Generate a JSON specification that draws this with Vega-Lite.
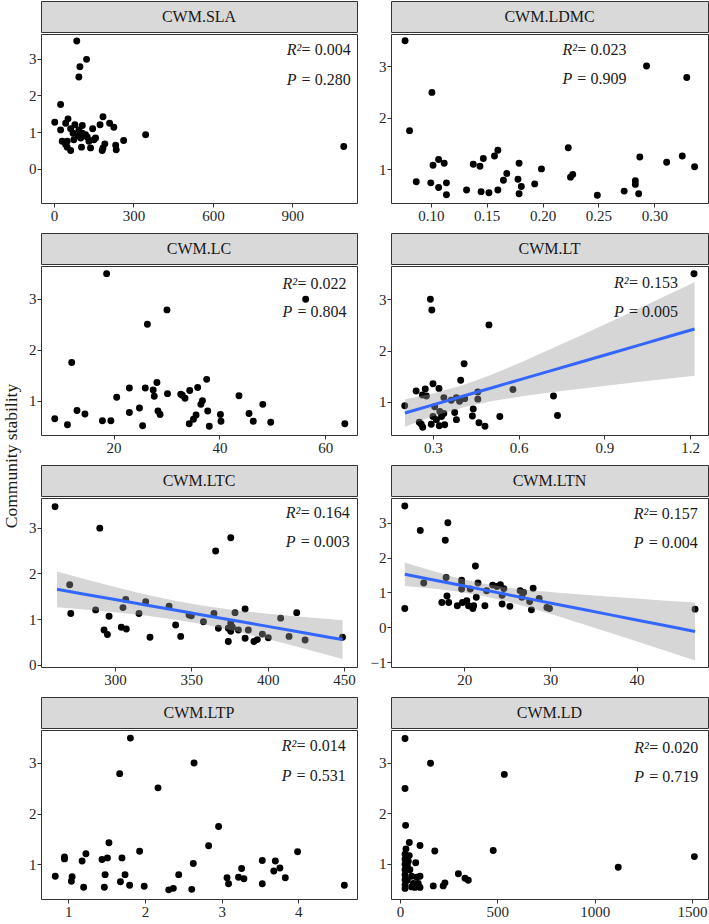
{
  "$schema": "https://vega.github.io/schema/vega-lite/v6.json",
  "padding": 0,
  "background": "white",
  "config": {
    "font": "Liberation Serif",
    "view": {"stroke": "#333333", "strokeWidth": 1},
    "axis": {"grid": false, "domain": false, "tickColor": "#333333", "tickSize": 4, "labelFont": "Liberation Serif", "labelFontSize": 15, "labelColor": "#262626", "labelPadding": 1},
    "text": {"font": "Liberation Serif"},
    "concat": {"spacing": 11}
  },
  "datasets": {
    "SLA": [{"x":86,"y":3.48},{"x":123,"y":2.98},{"x":98,"y":2.78},{"x":94,"y":2.5},{"x":25,"y":1.75},{"x":3,"y":1.27},{"x":53,"y":1.36},{"x":44,"y":1.24},{"x":25,"y":1.06},{"x":63,"y":1.09},{"x":79,"y":1.2},{"x":107,"y":1.18},{"x":94,"y":1.06},{"x":185,"y":1.42},{"x":174,"y":1.2},{"x":210,"y":1.24},{"x":226,"y":1.13},{"x":146,"y":1.09},{"x":107,"y":0.97},{"x":126,"y":0.86},{"x":101,"y":0.84},{"x":75,"y":0.79},{"x":31,"y":0.75},{"x":50,"y":0.75},{"x":151,"y":0.79},{"x":263,"y":0.77},{"x":346,"y":0.93},{"x":1094,"y":0.61},{"x":104,"y":0.59},{"x":63,"y":0.5},{"x":50,"y":0.59},{"x":138,"y":0.57},{"x":185,"y":0.57},{"x":192,"y":0.68},{"x":233,"y":0.64},{"x":235,"y":0.52},{"x":182,"y":0.5},{"x":119,"y":0.93},{"x":132,"y":0.75},{"x":92,"y":0.9},{"x":44,"y":0.66},{"x":72,"y":0.97},{"x":157,"y":0.84}],
    "LDMC": [{"x":0.077,"y":3.49},{"x":0.101,"y":2.49},{"x":0.081,"y":1.75},{"x":0.087,"y":0.76},{"x":0.1,"y":0.74},{"x":0.102,"y":1.08},{"x":0.107,"y":1.19},{"x":0.112,"y":1.12},{"x":0.107,"y":0.65},{"x":0.114,"y":0.74},{"x":0.114,"y":0.51},{"x":0.132,"y":0.6},{"x":0.138,"y":1.1},{"x":0.144,"y":1.06},{"x":0.147,"y":1.21},{"x":0.145,"y":0.57},{"x":0.152,"y":0.55},{"x":0.157,"y":1.26},{"x":0.16,"y":1.37},{"x":0.16,"y":0.6},{"x":0.168,"y":0.92},{"x":0.165,"y":0.79},{"x":0.179,"y":1.12},{"x":0.178,"y":0.81},{"x":0.179,"y":0.53},{"x":0.181,"y":0.67},{"x":0.193,"y":0.72},{"x":0.199,"y":1.01},{"x":0.223,"y":1.42},{"x":0.225,"y":0.85},{"x":0.227,"y":0.9},{"x":0.249,"y":0.5},{"x":0.273,"y":0.58},{"x":0.283,"y":0.78},{"x":0.283,"y":0.71},{"x":0.286,"y":0.53},{"x":0.287,"y":1.24},{"x":0.293,"y":3.0},{"x":0.311,"y":1.14},{"x":0.325,"y":1.26},{"x":0.329,"y":2.78},{"x":0.336,"y":1.05}],
    "LC": [{"x":18.7,"y":3.49},{"x":56.3,"y":2.99},{"x":30.1,"y":2.78},{"x":26.4,"y":2.5},{"x":12.1,"y":1.75},{"x":8.9,"y":0.65},{"x":11.3,"y":0.53},{"x":13.1,"y":0.81},{"x":14.6,"y":0.74},{"x":17.9,"y":0.61},{"x":19.5,"y":0.61},{"x":20.6,"y":1.07},{"x":23.0,"y":1.25},{"x":23.0,"y":0.77},{"x":24.9,"y":0.86},{"x":25.5,"y":0.51},{"x":26.0,"y":1.25},{"x":27.5,"y":1.21},{"x":27.7,"y":1.09},{"x":28.2,"y":1.36},{"x":28.4,"y":0.8},{"x":28.8,"y":0.73},{"x":30.2,"y":1.14},{"x":32.7,"y":1.13},{"x":33.0,"y":1.11},{"x":33.5,"y":1.05},{"x":34.4,"y":1.2},{"x":34.3,"y":0.55},{"x":35.1,"y":0.64},{"x":35.6,"y":0.72},{"x":35.9,"y":1.26},{"x":36.5,"y":0.93},{"x":36.8,"y":1.0},{"x":37.8,"y":0.8},{"x":37.6,"y":1.42},{"x":38.1,"y":0.5},{"x":40.2,"y":0.73},{"x":40.3,"y":0.6},{"x":43.7,"y":1.1},{"x":45.6,"y":0.75},{"x":46.4,"y":0.6},{"x":48.2,"y":0.93},{"x":49.7,"y":0.58},{"x":63.7,"y":0.55}],
    "LT": [{"x":1.214,"y":3.5},{"x":0.291,"y":3.0},{"x":0.296,"y":2.79},{"x":0.496,"y":2.5},{"x":0.409,"y":1.74},{"x":0.397,"y":1.42},{"x":0.201,"y":0.92},{"x":0.241,"y":1.21},{"x":0.273,"y":1.25},{"x":0.3,"y":1.35},{"x":0.263,"y":1.13},{"x":0.277,"y":1.11},{"x":0.321,"y":1.26},{"x":0.338,"y":1.08},{"x":0.364,"y":1.03},{"x":0.382,"y":1.08},{"x":0.393,"y":1.01},{"x":0.457,"y":1.19},{"x":0.457,"y":1.05},{"x":0.58,"y":1.24},{"x":0.722,"y":1.11},{"x":0.736,"y":0.73},{"x":0.534,"y":0.71},{"x":0.441,"y":0.86},{"x":0.438,"y":0.72},{"x":0.461,"y":0.59},{"x":0.482,"y":0.52},{"x":0.376,"y":0.79},{"x":0.382,"y":0.65},{"x":0.306,"y":0.9},{"x":0.324,"y":0.81},{"x":0.338,"y":0.77},{"x":0.3,"y":0.71},{"x":0.294,"y":0.56},{"x":0.322,"y":0.53},{"x":0.341,"y":0.55},{"x":0.259,"y":0.56},{"x":0.264,"y":0.5},{"x":0.252,"y":0.6},{"x":0.312,"y":0.65},{"x":0.33,"y":0.71},{"x":0.411,"y":1.06}],
    "LTC": [{"x":260.7,"y":3.46},{"x":290.0,"y":2.99},{"x":375.8,"y":2.78},{"x":365.9,"y":2.49},{"x":270.3,"y":1.75},{"x":271.0,"y":1.12},{"x":287.3,"y":1.2},{"x":292.8,"y":0.76},{"x":295.0,"y":0.66},{"x":296.1,"y":1.06},{"x":307.0,"y":1.43},{"x":305.2,"y":1.25},{"x":304.1,"y":0.82},{"x":307.4,"y":0.78},{"x":315.7,"y":1.12},{"x":320.1,"y":1.38},{"x":322.9,"y":0.6},{"x":335.4,"y":1.28},{"x":339.7,"y":0.87},{"x":343.0,"y":0.62},{"x":348.5,"y":1.09},{"x":350.0,"y":1.07},{"x":357.9,"y":0.94},{"x":364.8,"y":1.12},{"x":367.7,"y":0.8},{"x":374.2,"y":0.51},{"x":375.8,"y":0.91},{"x":376.9,"y":0.82},{"x":378.6,"y":1.14},{"x":380.8,"y":0.76},{"x":385.2,"y":1.22},{"x":385.2,"y":0.58},{"x":387.3,"y":0.76},{"x":391.0,"y":0.51},{"x":393.2,"y":0.55},{"x":396.5,"y":0.67},{"x":400.4,"y":0.59},{"x":408.5,"y":1.02},{"x":414.0,"y":0.62},{"x":419.0,"y":1.14},{"x":424.5,"y":0.54},{"x":449.0,"y":0.6},{"x":374.2,"y":0.8},{"x":375.8,"y":0.73}],
    "LTN": [{"x":13.1,"y":3.48},{"x":13.1,"y":0.54},{"x":14.9,"y":2.78},{"x":18.1,"y":3.0},{"x":17.8,"y":2.5},{"x":21.3,"y":1.76},{"x":15.3,"y":1.27},{"x":17.9,"y":1.43},{"x":17.4,"y":0.71},{"x":18.0,"y":0.9},{"x":18.2,"y":0.71},{"x":19.2,"y":0.62},{"x":19.7,"y":1.26},{"x":19.7,"y":1.35},{"x":19.7,"y":1.1},{"x":19.8,"y":0.71},{"x":20.3,"y":0.76},{"x":20.5,"y":0.62},{"x":20.7,"y":1.1},{"x":21.0,"y":0.54},{"x":21.4,"y":0.86},{"x":21.1,"y":0.62},{"x":21.6,"y":1.27},{"x":22.4,"y":0.62},{"x":22.6,"y":1.05},{"x":23.3,"y":1.21},{"x":23.8,"y":1.17},{"x":24.2,"y":1.22},{"x":24.4,"y":0.92},{"x":24.4,"y":0.67},{"x":24.6,"y":1.11},{"x":25.3,"y":0.6},{"x":26.5,"y":1.05},{"x":26.7,"y":0.86},{"x":27.6,"y":0.74},{"x":27.8,"y":0.5},{"x":28.0,"y":1.12},{"x":28.7,"y":0.83},{"x":29.6,"y":0.57},{"x":29.9,"y":0.54},{"x":46.8,"y":0.52},{"x":26.9,"y":1.0}],
    "LTP": [{"x":0.83,"y":0.77},{"x":0.95,"y":1.15},{"x":0.95,"y":1.11},{"x":1.04,"y":0.67},{"x":1.05,"y":0.76},{"x":1.18,"y":1.07},{"x":1.2,"y":0.55},{"x":1.23,"y":1.21},{"x":1.44,"y":1.1},{"x":1.47,"y":0.55},{"x":1.48,"y":0.8},{"x":1.51,"y":1.13},{"x":1.53,"y":1.43},{"x":1.67,"y":2.79},{"x":1.68,"y":0.66},{"x":1.7,"y":1.13},{"x":1.74,"y":0.8},{"x":1.81,"y":3.49},{"x":1.8,"y":0.59},{"x":1.93,"y":1.26},{"x":1.99,"y":0.57},{"x":2.17,"y":2.51},{"x":2.31,"y":0.5},{"x":2.37,"y":0.53},{"x":2.44,"y":0.8},{"x":2.61,"y":0.51},{"x":2.64,"y":3.0},{"x":2.63,"y":1.02},{"x":2.83,"y":1.37},{"x":2.96,"y":1.75},{"x":3.07,"y":0.74},{"x":3.09,"y":0.62},{"x":3.22,"y":0.75},{"x":3.26,"y":0.92},{"x":3.29,"y":0.72},{"x":3.53,"y":1.08},{"x":3.53,"y":0.62},{"x":3.68,"y":0.87},{"x":3.7,"y":1.07},{"x":3.76,"y":0.93},{"x":3.83,"y":0.74},{"x":3.99,"y":1.25},{"x":4.6,"y":0.59}],
    "LD": [{"x":26,"y":3.48},{"x":157,"y":2.99},{"x":536,"y":2.77},{"x":26,"y":2.49},{"x":29,"y":1.76},{"x":48,"y":1.42},{"x":103,"y":1.36},{"x":179,"y":1.25},{"x":479,"y":1.26},{"x":1512,"y":1.14},{"x":1121,"y":0.93},{"x":81,"y":1.02},{"x":26,"y":1.19},{"x":26,"y":1.09},{"x":26,"y":0.99},{"x":26,"y":0.88},{"x":26,"y":0.78},{"x":26,"y":0.68},{"x":26,"y":0.58},{"x":26,"y":0.51},{"x":48,"y":1.16},{"x":43,"y":1.05},{"x":51,"y":0.88},{"x":60,"y":0.75},{"x":69,"y":0.61},{"x":86,"y":0.73},{"x":103,"y":0.75},{"x":94,"y":0.61},{"x":103,"y":0.53},{"x":77,"y":0.53},{"x":171,"y":0.56},{"x":222,"y":0.56},{"x":231,"y":0.62},{"x":300,"y":0.8},{"x":334,"y":0.71},{"x":351,"y":0.67},{"x":31,"y":1.29},{"x":38,"y":0.97},{"x":38,"y":0.67},{"x":60,"y":0.54}],
    "LT_fit": [{"x":0.202,"fit":0.78,"lo":0.51,"hi":1.05},{"x":0.3,"fit":0.939,"lo":0.717,"hi":1.161},{"x":0.404,"fit":1.106,"lo":0.889,"hi":1.323},{"x":0.507,"fit":1.273,"lo":1.013,"hi":1.533},{"x":0.611,"fit":1.441,"lo":1.106,"hi":1.776},{"x":0.714,"fit":1.608,"lo":1.184,"hi":2.032},{"x":0.818,"fit":1.775,"lo":1.255,"hi":2.295},{"x":0.921,"fit":1.942,"lo":1.322,"hi":2.562},{"x":1.025,"fit":2.11,"lo":1.388,"hi":2.832},{"x":1.128,"fit":2.277,"lo":1.451,"hi":3.103},{"x":1.216,"fit":2.42,"lo":1.505,"hi":3.335}],
    "LTC_fit": [{"x":262,"fit":1.65,"lo":1.26,"hi":2.04},{"x":280,"fit":1.544,"lo":1.211,"hi":1.877},{"x":300,"fit":1.427,"lo":1.151,"hi":1.703},{"x":320,"fit":1.309,"lo":1.079,"hi":1.539},{"x":340,"fit":1.191,"lo":0.987,"hi":1.395},{"x":360,"fit":1.074,"lo":0.87,"hi":1.278},{"x":380,"fit":0.956,"lo":0.726,"hi":1.186},{"x":400,"fit":0.839,"lo":0.563,"hi":1.115},{"x":420,"fit":0.721,"lo":0.388,"hi":1.054},{"x":440,"fit":0.603,"lo":0.207,"hi":0.999},{"x":449,"fit":0.55,"lo":0.124,"hi":0.976}],
    "LTN_fit": [{"x":13.1,"fit":1.52,"lo":1.181,"hi":1.859},{"x":16,"fit":1.379,"lo":1.117,"hi":1.641},{"x":19,"fit":1.233,"lo":1.034,"hi":1.432},{"x":22,"fit":1.087,"lo":0.914,"hi":1.26},{"x":25,"fit":0.94,"lo":0.741,"hi":1.139},{"x":28,"fit":0.794,"lo":0.532,"hi":1.056},{"x":31,"fit":0.648,"lo":0.306,"hi":0.99},{"x":34,"fit":0.502,"lo":0.073,"hi":0.931},{"x":37,"fit":0.356,"lo":-0.164,"hi":0.876},{"x":40,"fit":0.21,"lo":-0.404,"hi":0.824},{"x":43,"fit":0.064,"lo":-0.644,"hi":0.772},{"x":46.8,"fit":-0.121,"lo":-0.95,"hi":0.708}]
  },
  "spacing": 4,
  "hconcat": [
    {
      "width": 24, "height": 910,
      "view": {"stroke": null},
      "data": {"values": [{"t": "Community stability"}]},
      "mark": {"type": "text", "angle": 270, "fontSize": 17.5, "color": "#1a1a1a"},
      "encoding": {"text": {"field": "t"}}
    },
    {
      "columns": 2,
      "spacing": {"row": 8, "column": 11},
      "concat": [
        {"spacing": 0, "vconcat": [
          {"width": 316, "height": 31, "view": {"fill": "#d9d9d9", "stroke": "#333333"}, "data": {"values": [{"t": "CWM.SLA"}]}, "mark": {"type": "text", "fontSize": 16, "color": "#1a1a1a"}, "encoding": {"text": {"field": "t"}}},
          {"width": 316, "height": 169, "layer": [
            {"data": {"name": "SLA"}, "mark": {"type": "circle", "size": 48, "color": "black", "opacity": 1},
             "encoding": {"x": {"field": "x", "type": "quantitative", "title": null, "scale": {"domain": [-49, 1144], "nice": false, "zero": false}, "axis": {"values": [0, 300, 600, 900], "format": "d"}},
                          "y": {"field": "y", "type": "quantitative", "title": null, "scale": {"domain": [-0.93, 3.67], "nice": false, "zero": false}, "axis": {"values": [0, 1, 2, 3], "format": "d"}}}},
            {"data": {"values": [{}]}, "mark": {"type": "text", "align": "right", "baseline": "middle", "fontSize": 16, "color": "#1a1a1a"}, "encoding": {"x": {"datum": 1120}, "y": {"datum": 3.24}, "text": {"value": "= 0.004"}}},
            {"data": {"values": [{}]}, "mark": {"type": "text", "align": "left", "baseline": "middle", "fontSize": 16, "fontStyle": "italic", "dx": -64, "color": "#1a1a1a"}, "encoding": {"x": {"datum": 1120}, "y": {"datum": 3.24}, "text": {"value": "R²"}}},
            {"data": {"values": [{}]}, "mark": {"type": "text", "align": "right", "baseline": "middle", "fontSize": 16, "color": "#1a1a1a"}, "encoding": {"x": {"datum": 1120}, "y": {"datum": 2.43}, "text": {"value": "= 0.280"}}},
            {"data": {"values": [{}]}, "mark": {"type": "text", "align": "left", "baseline": "middle", "fontSize": 16, "fontStyle": "italic", "dx": -64, "color": "#1a1a1a"}, "encoding": {"x": {"datum": 1120}, "y": {"datum": 2.43}, "text": {"value": "P"}}}
          ]}
        ]},
        {"spacing": 0, "vconcat": [
          {"width": 317, "height": 31, "view": {"fill": "#d9d9d9", "stroke": "#333333"}, "data": {"values": [{"t": "CWM.LDMC"}]}, "mark": {"type": "text", "fontSize": 16, "color": "#1a1a1a"}, "encoding": {"text": {"field": "t"}}},
          {"width": 317, "height": 169, "layer": [
            {"data": {"name": "LDMC"}, "mark": {"type": "circle", "size": 48, "color": "black", "opacity": 1},
             "encoding": {"x": {"field": "x", "type": "quantitative", "title": null, "scale": {"domain": [0.0644, 0.348], "nice": false, "zero": false}, "axis": {"values": [0.1, 0.15, 0.2, 0.25, 0.3], "format": ".2f"}},
                          "y": {"field": "y", "type": "quantitative", "title": null, "scale": {"domain": [0.35, 3.62], "nice": false, "zero": false}, "axis": {"values": [1, 2, 3], "format": "d"}}}},
            {"data": {"values": [{}]}, "mark": {"type": "text", "align": "right", "baseline": "middle", "fontSize": 16, "color": "#1a1a1a"}, "encoding": {"x": {"datum": 0.275}, "y": {"datum": 3.31}, "text": {"value": "= 0.023"}}},
            {"data": {"values": [{}]}, "mark": {"type": "text", "align": "left", "baseline": "middle", "fontSize": 16, "fontStyle": "italic", "dx": -64, "color": "#1a1a1a"}, "encoding": {"x": {"datum": 0.275}, "y": {"datum": 3.31}, "text": {"value": "R²"}}},
            {"data": {"values": [{}]}, "mark": {"type": "text", "align": "right", "baseline": "middle", "fontSize": 16, "color": "#1a1a1a"}, "encoding": {"x": {"datum": 0.275}, "y": {"datum": 2.74}, "text": {"value": "= 0.909"}}},
            {"data": {"values": [{}]}, "mark": {"type": "text", "align": "left", "baseline": "middle", "fontSize": 16, "fontStyle": "italic", "dx": -64, "color": "#1a1a1a"}, "encoding": {"x": {"datum": 0.275}, "y": {"datum": 2.74}, "text": {"value": "P"}}}
          ]}
        ]},
        {"spacing": 0, "vconcat": [
          {"width": 316, "height": 31, "view": {"fill": "#d9d9d9", "stroke": "#333333"}, "data": {"values": [{"t": "CWM.LC"}]}, "mark": {"type": "text", "fontSize": 16, "color": "#1a1a1a"}, "encoding": {"text": {"field": "t"}}},
          {"width": 316, "height": 169, "layer": [
            {"data": {"name": "LC"}, "mark": {"type": "circle", "size": 48, "color": "black", "opacity": 1},
             "encoding": {"x": {"field": "x", "type": "quantitative", "title": null, "scale": {"domain": [6.3, 66.0], "nice": false, "zero": false}, "axis": {"values": [20, 40, 60], "format": "d"}},
                          "y": {"field": "y", "type": "quantitative", "title": null, "scale": {"domain": [0.33, 3.64], "nice": false, "zero": false}, "axis": {"values": [1, 2, 3], "format": "d"}}}},
            {"data": {"values": [{}]}, "mark": {"type": "text", "align": "right", "baseline": "middle", "fontSize": 16, "color": "#1a1a1a"}, "encoding": {"x": {"datum": 64.0}, "y": {"datum": 3.29}, "text": {"value": "= 0.022"}}},
            {"data": {"values": [{}]}, "mark": {"type": "text", "align": "left", "baseline": "middle", "fontSize": 16, "fontStyle": "italic", "dx": -64, "color": "#1a1a1a"}, "encoding": {"x": {"datum": 64.0}, "y": {"datum": 3.29}, "text": {"value": "R²"}}},
            {"data": {"values": [{}]}, "mark": {"type": "text", "align": "right", "baseline": "middle", "fontSize": 16, "color": "#1a1a1a"}, "encoding": {"x": {"datum": 64.0}, "y": {"datum": 2.74}, "text": {"value": "= 0.804"}}},
            {"data": {"values": [{}]}, "mark": {"type": "text", "align": "left", "baseline": "middle", "fontSize": 16, "fontStyle": "italic", "dx": -64, "color": "#1a1a1a"}, "encoding": {"x": {"datum": 64.0}, "y": {"datum": 2.74}, "text": {"value": "P"}}}
          ]}
        ]},
        {"spacing": 0, "vconcat": [
          {"width": 317, "height": 31, "view": {"fill": "#d9d9d9", "stroke": "#333333"}, "data": {"values": [{"t": "CWM.LT"}]}, "mark": {"type": "text", "fontSize": 16, "color": "#1a1a1a"}, "encoding": {"text": {"field": "t"}}},
          {"width": 317, "height": 169, "layer": [
            {"data": {"name": "LT"}, "mark": {"type": "circle", "size": 48, "color": "black", "opacity": 1},
             "encoding": {"x": {"field": "x", "type": "quantitative", "title": null, "scale": {"domain": [0.153, 1.263], "nice": false, "zero": false}, "axis": {"values": [0.3, 0.6, 0.9, 1.2], "format": ".1f"}},
                          "y": {"field": "y", "type": "quantitative", "title": null, "scale": {"domain": [0.35, 3.65], "nice": false, "zero": false}, "axis": {"values": [1, 2, 3], "format": "d"}}}},
            {"data": {"name": "LT_fit"}, "mark": {"type": "area", "color": "#999999", "opacity": 0.4}, "encoding": {"x": {"field": "x", "type": "quantitative"}, "y": {"field": "lo", "type": "quantitative"}, "y2": {"field": "hi"}}},
            {"data": {"name": "LT_fit"}, "mark": {"type": "line", "color": "#3366FF", "strokeWidth": 3}, "encoding": {"x": {"field": "x", "type": "quantitative"}, "y": {"field": "fit", "type": "quantitative"}}},
            {"data": {"values": [{}]}, "mark": {"type": "text", "align": "right", "baseline": "middle", "fontSize": 16, "color": "#1a1a1a"}, "encoding": {"x": {"datum": 1.158}, "y": {"datum": 3.31}, "text": {"value": "= 0.153"}}},
            {"data": {"values": [{}]}, "mark": {"type": "text", "align": "left", "baseline": "middle", "fontSize": 16, "fontStyle": "italic", "dx": -64, "color": "#1a1a1a"}, "encoding": {"x": {"datum": 1.158}, "y": {"datum": 3.31}, "text": {"value": "R²"}}},
            {"data": {"values": [{}]}, "mark": {"type": "text", "align": "right", "baseline": "middle", "fontSize": 16, "color": "#1a1a1a"}, "encoding": {"x": {"datum": 1.158}, "y": {"datum": 2.75}, "text": {"value": "= 0.005"}}},
            {"data": {"values": [{}]}, "mark": {"type": "text", "align": "left", "baseline": "middle", "fontSize": 16, "fontStyle": "italic", "dx": -64, "color": "#1a1a1a"}, "encoding": {"x": {"datum": 1.158}, "y": {"datum": 2.75}, "text": {"value": "P"}}}
          ]}
        ]},
        {"spacing": 0, "vconcat": [
          {"width": 316, "height": 31, "view": {"fill": "#d9d9d9", "stroke": "#333333"}, "data": {"values": [{"t": "CWM.LTC"}]}, "mark": {"type": "text", "fontSize": 16, "color": "#1a1a1a"}, "encoding": {"text": {"field": "t"}}},
          {"width": 316, "height": 169, "layer": [
            {"data": {"name": "LTC"}, "mark": {"type": "circle", "size": 48, "color": "black", "opacity": 1},
             "encoding": {"x": {"field": "x", "type": "quantitative", "title": null, "scale": {"domain": [251.5, 458.5], "nice": false, "zero": false}, "axis": {"values": [300, 350, 400, 450], "format": "d"}},
                          "y": {"field": "y", "type": "quantitative", "title": null, "scale": {"domain": [-0.05, 3.65], "nice": false, "zero": false}, "axis": {"values": [0, 1, 2, 3], "format": "d"}}}},
            {"data": {"name": "LTC_fit"}, "mark": {"type": "area", "color": "#999999", "opacity": 0.4}, "encoding": {"x": {"field": "x", "type": "quantitative"}, "y": {"field": "lo", "type": "quantitative"}, "y2": {"field": "hi"}}},
            {"data": {"name": "LTC_fit"}, "mark": {"type": "line", "color": "#3366FF", "strokeWidth": 3}, "encoding": {"x": {"field": "x", "type": "quantitative"}, "y": {"field": "fit", "type": "quantitative"}}},
            {"data": {"values": [{}]}, "mark": {"type": "text", "align": "right", "baseline": "middle", "fontSize": 16, "color": "#1a1a1a"}, "encoding": {"x": {"datum": 453.7}, "y": {"datum": 3.33}, "text": {"value": "= 0.164"}}},
            {"data": {"values": [{}]}, "mark": {"type": "text", "align": "left", "baseline": "middle", "fontSize": 16, "fontStyle": "italic", "dx": -64, "color": "#1a1a1a"}, "encoding": {"x": {"datum": 453.7}, "y": {"datum": 3.33}, "text": {"value": "R²"}}},
            {"data": {"values": [{}]}, "mark": {"type": "text", "align": "right", "baseline": "middle", "fontSize": 16, "color": "#1a1a1a"}, "encoding": {"x": {"datum": 453.7}, "y": {"datum": 2.68}, "text": {"value": "= 0.003"}}},
            {"data": {"values": [{}]}, "mark": {"type": "text", "align": "left", "baseline": "middle", "fontSize": 16, "fontStyle": "italic", "dx": -64, "color": "#1a1a1a"}, "encoding": {"x": {"datum": 453.7}, "y": {"datum": 2.68}, "text": {"value": "P"}}}
          ]}
        ]},
        {"spacing": 0, "vconcat": [
          {"width": 317, "height": 31, "view": {"fill": "#d9d9d9", "stroke": "#333333"}, "data": {"values": [{"t": "CWM.LTN"}]}, "mark": {"type": "text", "fontSize": 16, "color": "#1a1a1a"}, "encoding": {"text": {"field": "t"}}},
          {"width": 317, "height": 169, "layer": [
            {"data": {"name": "LTN"}, "mark": {"type": "circle", "size": 48, "color": "black", "opacity": 1},
             "encoding": {"x": {"field": "x", "type": "quantitative", "title": null, "scale": {"domain": [11.5, 48.3], "nice": false, "zero": false}, "axis": {"values": [20, 30, 40], "format": "d"}},
                          "y": {"field": "y", "type": "quantitative", "title": null, "scale": {"domain": [-1.14, 3.71], "nice": false, "zero": false}, "axis": {"values": [-1, 0, 1, 2, 3], "format": "d"}}}},
            {"data": {"name": "LTN_fit"}, "mark": {"type": "area", "color": "#999999", "opacity": 0.4}, "encoding": {"x": {"field": "x", "type": "quantitative"}, "y": {"field": "lo", "type": "quantitative"}, "y2": {"field": "hi"}}},
            {"data": {"name": "LTN_fit"}, "mark": {"type": "line", "color": "#3366FF", "strokeWidth": 3}, "encoding": {"x": {"field": "x", "type": "quantitative"}, "y": {"field": "fit", "type": "quantitative"}}},
            {"data": {"values": [{}]}, "mark": {"type": "text", "align": "right", "baseline": "middle", "fontSize": 16, "color": "#1a1a1a"}, "encoding": {"x": {"datum": 47.1}, "y": {"datum": 3.26}, "text": {"value": "= 0.157"}}},
            {"data": {"values": [{}]}, "mark": {"type": "text", "align": "left", "baseline": "middle", "fontSize": 16, "fontStyle": "italic", "dx": -64, "color": "#1a1a1a"}, "encoding": {"x": {"datum": 47.1}, "y": {"datum": 3.26}, "text": {"value": "R²"}}},
            {"data": {"values": [{}]}, "mark": {"type": "text", "align": "right", "baseline": "middle", "fontSize": 16, "color": "#1a1a1a"}, "encoding": {"x": {"datum": 47.1}, "y": {"datum": 2.41}, "text": {"value": "= 0.004"}}},
            {"data": {"values": [{}]}, "mark": {"type": "text", "align": "left", "baseline": "middle", "fontSize": 16, "fontStyle": "italic", "dx": -64, "color": "#1a1a1a"}, "encoding": {"x": {"datum": 47.1}, "y": {"datum": 2.41}, "text": {"value": "P"}}}
          ]}
        ]},
        {"spacing": 0, "vconcat": [
          {"width": 316, "height": 31, "view": {"fill": "#d9d9d9", "stroke": "#333333"}, "data": {"values": [{"t": "CWM.LTP"}]}, "mark": {"type": "text", "fontSize": 16, "color": "#1a1a1a"}, "encoding": {"text": {"field": "t"}}},
          {"width": 316, "height": 169, "layer": [
            {"data": {"name": "LTP"}, "mark": {"type": "circle", "size": 48, "color": "black", "opacity": 1},
             "encoding": {"x": {"field": "x", "type": "quantitative", "title": null, "scale": {"domain": [0.644, 4.765], "nice": false, "zero": false}, "axis": {"values": [1, 2, 3, 4], "format": "d"}},
                          "y": {"field": "y", "type": "quantitative", "title": null, "scale": {"domain": [0.32, 3.65], "nice": false, "zero": false}, "axis": {"values": [1, 2, 3], "format": "d"}}}},
            {"data": {"values": [{}]}, "mark": {"type": "text", "align": "right", "baseline": "middle", "fontSize": 16, "color": "#1a1a1a"}, "encoding": {"x": {"datum": 4.617}, "y": {"datum": 3.33}, "text": {"value": "= 0.014"}}},
            {"data": {"values": [{}]}, "mark": {"type": "text", "align": "left", "baseline": "middle", "fontSize": 16, "fontStyle": "italic", "dx": -64, "color": "#1a1a1a"}, "encoding": {"x": {"datum": 4.617}, "y": {"datum": 3.33}, "text": {"value": "R²"}}},
            {"data": {"values": [{}]}, "mark": {"type": "text", "align": "right", "baseline": "middle", "fontSize": 16, "color": "#1a1a1a"}, "encoding": {"x": {"datum": 4.617}, "y": {"datum": 2.74}, "text": {"value": "= 0.531"}}},
            {"data": {"values": [{}]}, "mark": {"type": "text", "align": "left", "baseline": "middle", "fontSize": 16, "fontStyle": "italic", "dx": -64, "color": "#1a1a1a"}, "encoding": {"x": {"datum": 4.617}, "y": {"datum": 2.74}, "text": {"value": "P"}}}
          ]}
        ]},
        {"spacing": 0, "vconcat": [
          {"width": 317, "height": 31, "view": {"fill": "#d9d9d9", "stroke": "#333333"}, "data": {"values": [{"t": "CWM.LD"}]}, "mark": {"type": "text", "fontSize": 16, "color": "#1a1a1a"}, "encoding": {"text": {"field": "t"}}},
          {"width": 317, "height": 169, "layer": [
            {"data": {"name": "LD"}, "mark": {"type": "circle", "size": 48, "color": "black", "opacity": 1},
             "encoding": {"x": {"field": "x", "type": "quantitative", "title": null, "scale": {"domain": [-46, 1582], "nice": false, "zero": false}, "axis": {"values": [0, 500, 1000, 1500], "format": "d"}},
                          "y": {"field": "y", "type": "quantitative", "title": null, "scale": {"domain": [0.3, 3.65], "nice": false, "zero": false}, "axis": {"values": [1, 2, 3], "format": "d"}}}},
            {"data": {"values": [{}]}, "mark": {"type": "text", "align": "right", "baseline": "middle", "fontSize": 16, "color": "#1a1a1a"}, "encoding": {"x": {"datum": 1532}, "y": {"datum": 3.3}, "text": {"value": "= 0.020"}}},
            {"data": {"values": [{}]}, "mark": {"type": "text", "align": "left", "baseline": "middle", "fontSize": 16, "fontStyle": "italic", "dx": -64, "color": "#1a1a1a"}, "encoding": {"x": {"datum": 1532}, "y": {"datum": 3.3}, "text": {"value": "R²"}}},
            {"data": {"values": [{}]}, "mark": {"type": "text", "align": "right", "baseline": "middle", "fontSize": 16, "color": "#1a1a1a"}, "encoding": {"x": {"datum": 1532}, "y": {"datum": 2.72}, "text": {"value": "= 0.719"}}},
            {"data": {"values": [{}]}, "mark": {"type": "text", "align": "left", "baseline": "middle", "fontSize": 16, "fontStyle": "italic", "dx": -64, "color": "#1a1a1a"}, "encoding": {"x": {"datum": 1532}, "y": {"datum": 2.72}, "text": {"value": "P"}}}
          ]}
        ]}
      ]
    }
  ]
}
